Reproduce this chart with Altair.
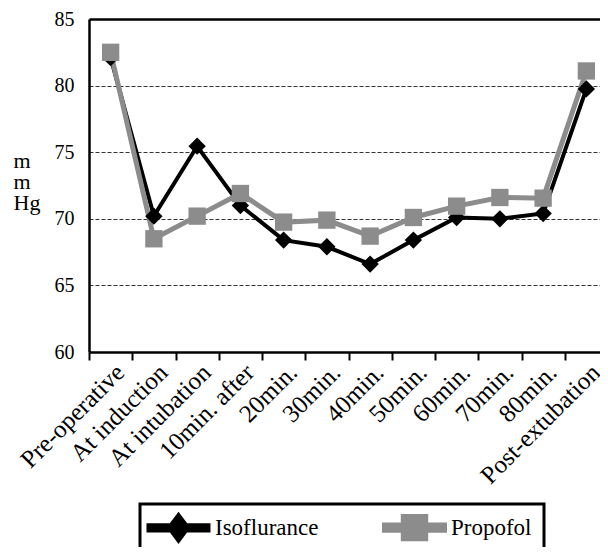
import altair as alt
import pandas as pd

categories = ["Pre-operative", "At induction", "At intubation", "10min. after", "20min.",
              "30min.", "40min.", "50min.", "60min.", "70min.", "80min.", "Post-extubation"]
isoflurance = [82.1, 70.2, 75.45, 71.0, 68.4, 67.9, 66.6, 68.4, 70.1, 70.0, 70.4, 79.75]
propofol = [82.5, 68.5, 70.2, 71.9, 69.75, 69.9, 68.7, 70.1, 70.95, 71.6, 71.55, 81.1]
series_names = ["Isoflurance", "Propofol"]
series_colors = ["#000000", "#8c8c8c"]
y_ticks = [60, 65, 70, 75, 80, 85]

rows = []
for i, c in enumerate(categories):
    rows.append({"time": c, "order": i, "series": series_names[0], "mmHg": isoflurance[i]})
    rows.append({"time": c, "order": i, "series": series_names[1], "mmHg": propofol[i]})
df = pd.DataFrame(rows)

FONT = "Liberation Serif, Times New Roman, Tinos, DejaVu Serif, serif"
W, H = 511, 333

x_enc = alt.X(
    "time:N", sort=categories, bandPosition=0.5,
    scale=alt.Scale(type="band", domain=categories, range=[0, 519], paddingInner=0, paddingOuter=0),
    axis=alt.Axis(title=None, tickBand="extent", ticks=True, tickSize=8, tickWidth=2,
                  tickColor="black", domainColor="black", domainWidth=2.5,
                  labelAngle=-45, labelAlign="right", labelBaseline="middle",
                  labelFont=FONT, labelFontSize=25, labelColor="black",
                  labelPadding=8, labelOffset=9, labelOverlap=False, labelBound=False, grid=False),
)
y_enc = alt.Y(
    "mmHg:Q",
    scale=alt.Scale(domain=[60, 85], nice=False, zero=False),
    axis=alt.Axis(values=y_ticks, ticks=False, domainColor="black", domainWidth=2.5,
                  labelFont=FONT, labelFontSize=20, labelColor="black", labelPadding=15,
                  grid=True,
                  gridDash={"condition": {"test": "datum.value === 85", "value": []}, "value": [4, 2]},
                  gridColor={"condition": {"test": "datum.value === 85", "value": "black"}, "value": "#333333"},
                  gridWidth={"condition": {"test": "datum.value === 85", "value": 2.5}, "value": 1.2},
                  gridOpacity={"condition": {"test": "datum.value === 60", "value": 0}, "value": 1},
                  title=["m", "m", "Hg"], titleAngle=0, titleAlign="left", titleBaseline="top",
                  titleX=-76, titleY=131, titleFont=FONT, titleFontSize=22,
                  titleFontWeight="normal", titleColor="black", titleLineHeight=21),
)

# legend glyphs: one closed outline = thick line segment with the series marker on it
iso_path = ("M-3.75,-0.32L-0.96,-0.32L0,-1.6L0.96,-0.32L3.75,-0.32L3.75,0.32"
            "L0.96,0.32L0,1.6L-0.96,0.32L-3.75,0.32Z")
prop_path = ("M-3.75,-0.32L-1.4,-0.32L-1.4,-1.4L1.4,-1.4L1.4,-0.32L3.75,-0.32L3.75,0.32"
             "L1.4,0.32L1.4,1.4L-1.4,1.4L-1.4,0.32L-3.75,0.32Z")
shape_expr = f"datum.value === 'Isoflurance' ? '{iso_path}' : '{prop_path}'"
color_expr = "datum.value === 'Isoflurance' ? '#000000' : '#8c8c8c'"
marker_expr = "datum.series === 'Isoflurance' ? 'diamond' : 'square'"

color_scale = alt.Scale(domain=series_names, range=series_colors)

lines = alt.Chart(df).mark_line().encode(
    x=x_enc, y=y_enc,
    color=alt.Color("series:N", scale=color_scale,
                    legend=alt.Legend(title=" ", titleOrient="bottom", titleFontSize=23, titlePadding=20,
                                      orient="none", legendX=51, legendY=485,
                                      direction="horizontal", columns=2, columnPadding=55,
                                      symbolSize=256, symbolStrokeWidth=0, symbolOffset=15,
                                      symbolType=alt.ExprRef(expr=shape_expr),
                                      symbolFillColor=alt.ExprRef(expr=color_expr),
                                      symbolStrokeColor=alt.ExprRef(expr=color_expr),
                                      symbolOpacity=1,
                                      labelFont=FONT, labelFontSize=23, labelColor="black",
                                      labelOffset=25, padding=12, strokeColor="black")),
    strokeWidth=alt.StrokeWidth("series:N", scale=alt.Scale(domain=series_names, range=[4, 5]), legend=None),
    order="order:Q",
)

points = alt.Chart(df).transform_calculate(marker=marker_expr).mark_point(
    filled=True, size=300, opacity=1
).encode(
    x=x_enc, y=y_enc,
    color=alt.Color("series:N", scale=color_scale, legend=None),
    shape=alt.Shape("marker:N", scale=None, legend=None),
)

chart = alt.layer(lines, points).properties(
    width=W, height=H,
    autosize=alt.AutoSizeParams(type="none"),
    padding={"left": 81, "top": 11, "right": 0, "bottom": 195},
    background="white",
).configure_view(stroke=None).configure_legend(strokeWidth=3, cornerRadius=0)

chart.save("out.html", embed_options={"renderer": "svg", "actions": False})
